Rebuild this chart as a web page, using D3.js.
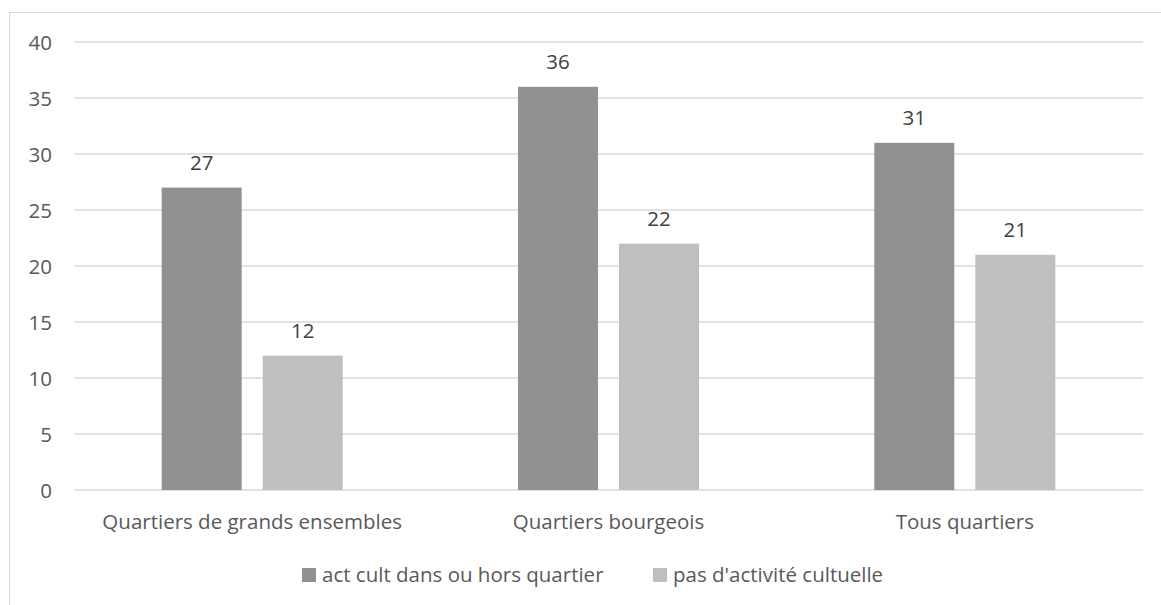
<!DOCTYPE html>
<html><head><meta charset="utf-8">
<script src="https://cdn.jsdelivr.net/npm/d3@7"></script>
<style>body{margin:0;background:#fff}svg{display:block}text{font-family:"Open Sans",sans-serif;fill:#595959}text.lbl{fill:#404040}</style>
</head><body><svg id="c" width="1161" height="605"></svg>
<script>
const categories = ["Quartiers de grands ensembles","Quartiers bourgeois","Tous quartiers"];
const seriesNames = ["act cult dans ou hors quartier","pas d'activité cultuelle"];
const actCult = [27,36,31];
const pasActivite = [12,22,21];
const yTicks = [0,5,10,15,20,25,30,35,40];
const colors = ["#919191","#bfbfbf"];

const FS = 20.5;
const svg = d3.select("#c");
svg.append("rect").attr("x",9.5).attr("y",12.5).attr("width",1160).attr("height",600)
  .attr("fill","none").attr("stroke","#d9d9d9");
const L=74,R=1143,T=42,B=490;
const y = d3.scaleLinear().domain([0,40]).range([B,T]);
const x0 = d3.scaleBand().domain(categories).range([L,R]);
const barW=80,gap=21;
const g=svg.append("g");
g.selectAll("line.grid").data(yTicks).join("line").attr("x1",L).attr("x2",R)
  .attr("y1",d=>y(d)).attr("y2",d=>y(d)).attr("stroke","#d9d9d9").attr("stroke-width",1.3);
g.selectAll("text.yt").data(yTicks).join("text").attr("x",52).attr("y",d=>y(d)+7.5)
  .attr("text-anchor","end").attr("font-size",FS).text(d=>d);
const series=[actCult,pasActivite];
series.forEach((vals,si)=>{
  const off = si===0 ? -(gap/2+barW) : gap/2;
  g.selectAll(null).data(categories).join("rect")
    .attr("x",d=>x0(d)+x0.bandwidth()/2+off).attr("width",barW)
    .attr("y",(d,i)=>y(vals[i])).attr("height",(d,i)=>B-y(vals[i])).attr("fill",colors[si]);
  g.selectAll(null).data(categories).join("text").attr("class","lbl")
    .attr("x",d=>x0(d)+x0.bandwidth()/2+off+barW/2).attr("y",(d,i)=>y(vals[i])-17.5)
    .attr("text-anchor","middle").attr("font-size",FS).text((d,i)=>vals[i]);
});
g.selectAll("text.xl").data(categories).join("text").attr("x",d=>x0(d)+x0.bandwidth()/2)
  .attr("y",529).attr("text-anchor","middle").attr("font-size",FS).text(d=>d);
const lx=[302,653];
seriesNames.forEach((n,i)=>{
  svg.append("rect").attr("x",lx[i]).attr("y",568).attr("width",14).attr("height",14).attr("fill",colors[i]);
  svg.append("text").attr("x",lx[i]+20).attr("y",582).attr("font-size",FS).text(n);
});
</script></body></html>
